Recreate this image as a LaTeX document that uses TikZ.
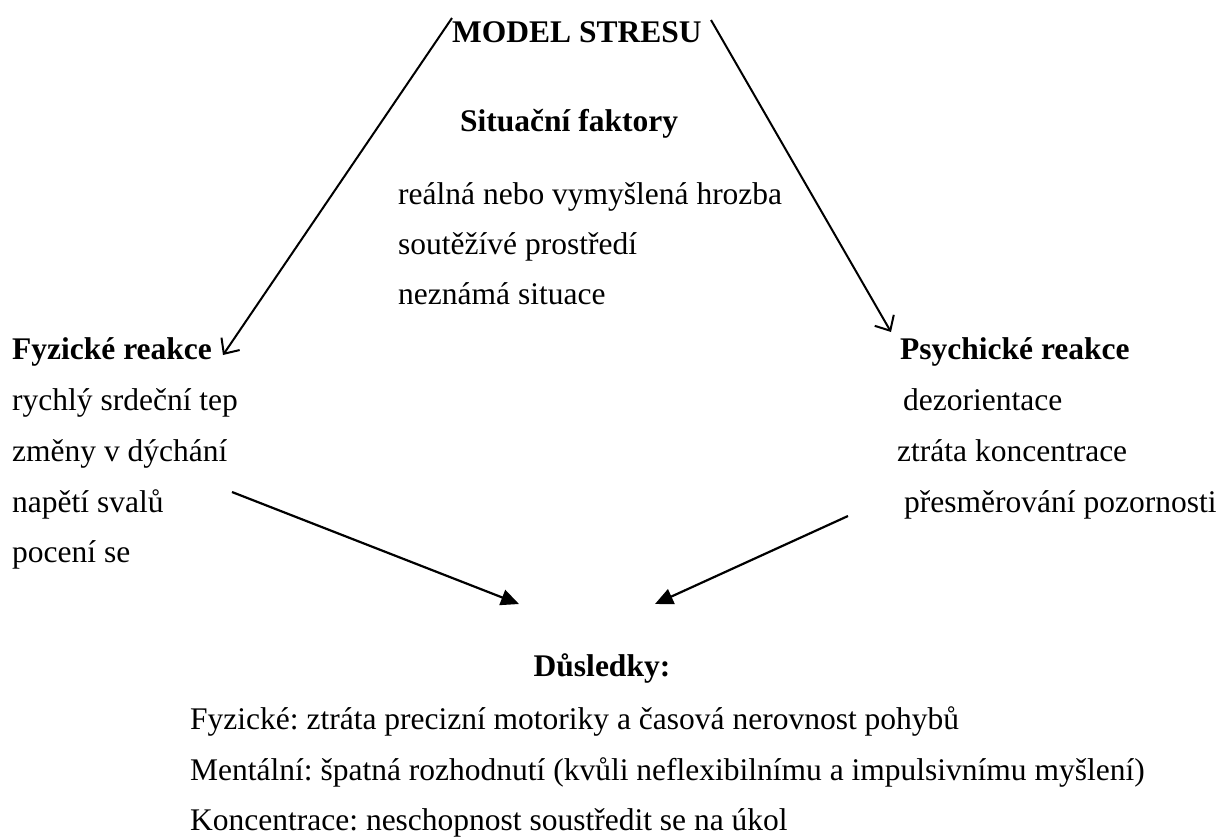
\documentclass[tikz,border=0pt]{standalone}
\usepackage{fontspec}
\setmainfont{Liberation Serif}
\usetikzlibrary{arrows.meta}
\frenchspacing
\begin{document}
\begin{tikzpicture}[x=1pt,y=-1pt,
  txt/.style={anchor=base west,inner sep=0pt,font=\fontsize{31.5}{36}\selectfont},
  head/.style={txt,font=\fontsize{31.5}{36}\selectfont\bfseries},
  openarrow/.style={line width=2pt,-{Straight Barb[length=12pt,width=22pt,line width=2pt]}},
  fillarrow/.style={line width=2.2pt,-{Triangle[length=18pt,width=16pt]}}]
\useasboundingbox (0,0) rectangle (1229,839);

% title and situational factors
\node[head] (title) at (452,42) {MODEL STRESU};
\node[head] (sit) at (460,131) {Situační faktory};
\node[txt] (s1) at (398,204) {reálná nebo vymyšlená hrozba};
\node[txt] (s2) at (398,254) {soutěžívé prostředí};
\node[txt] (s3) at (398,304) {neznámá situace};

% physical reactions
\node[head] (fyz) at (12,359) {Fyzické reakce};
\node[txt] (f1) at (12,410) {rychlý srdeční tep};
\node[txt] (f2) at (12,461) {změny v dýchání};
\node[txt] (f3) at (12,512) {napětí svalů};
\node[txt] (f4) at (12,562) {pocení se};

% psychological reactions
\node[head] (psy) at (900,359) {Psychické reakce};
\node[txt] (p1) at (903,410) {dezorientace};
\node[txt] (p2) at (897,461) {ztráta koncentrace};
\node[txt] (p3) at (904,512) {přesměrování pozornosti};

% consequences
\node[head,anchor=base] (dus) at (602,676) {Důsledky:};
\node[txt] (d1) at (190,729) {Fyzické: ztráta precizní motoriky a časová nerovnost pohybů};
\node[txt] (d2) at (190,780) {Mentální: špatná rozhodnutí (kvůli neflexibilnímu a impulsivnímu myšlení)};
\node[txt] (d3) at (190,830) {Koncentrace: neschopnost soustředit se na úkol};

% arrow end points
\coordinate (tl) at (452,18);
\coordinate (fyzTip) at (223,355);
\coordinate (tr) at (711,20);
\coordinate (psyTip) at (891,332);
\coordinate (fl) at (232,492);
\coordinate (dusL) at (519,604);
\coordinate (pr) at (848,516);
\coordinate (dusR) at (655,604);

\draw[openarrow] (tl) -- (fyzTip);
\draw[openarrow] (tr) -- (psyTip);
\draw[fillarrow] (fl) -- (dusL);
\draw[fillarrow] (pr) -- (dusR);
\end{tikzpicture}
\end{document}
